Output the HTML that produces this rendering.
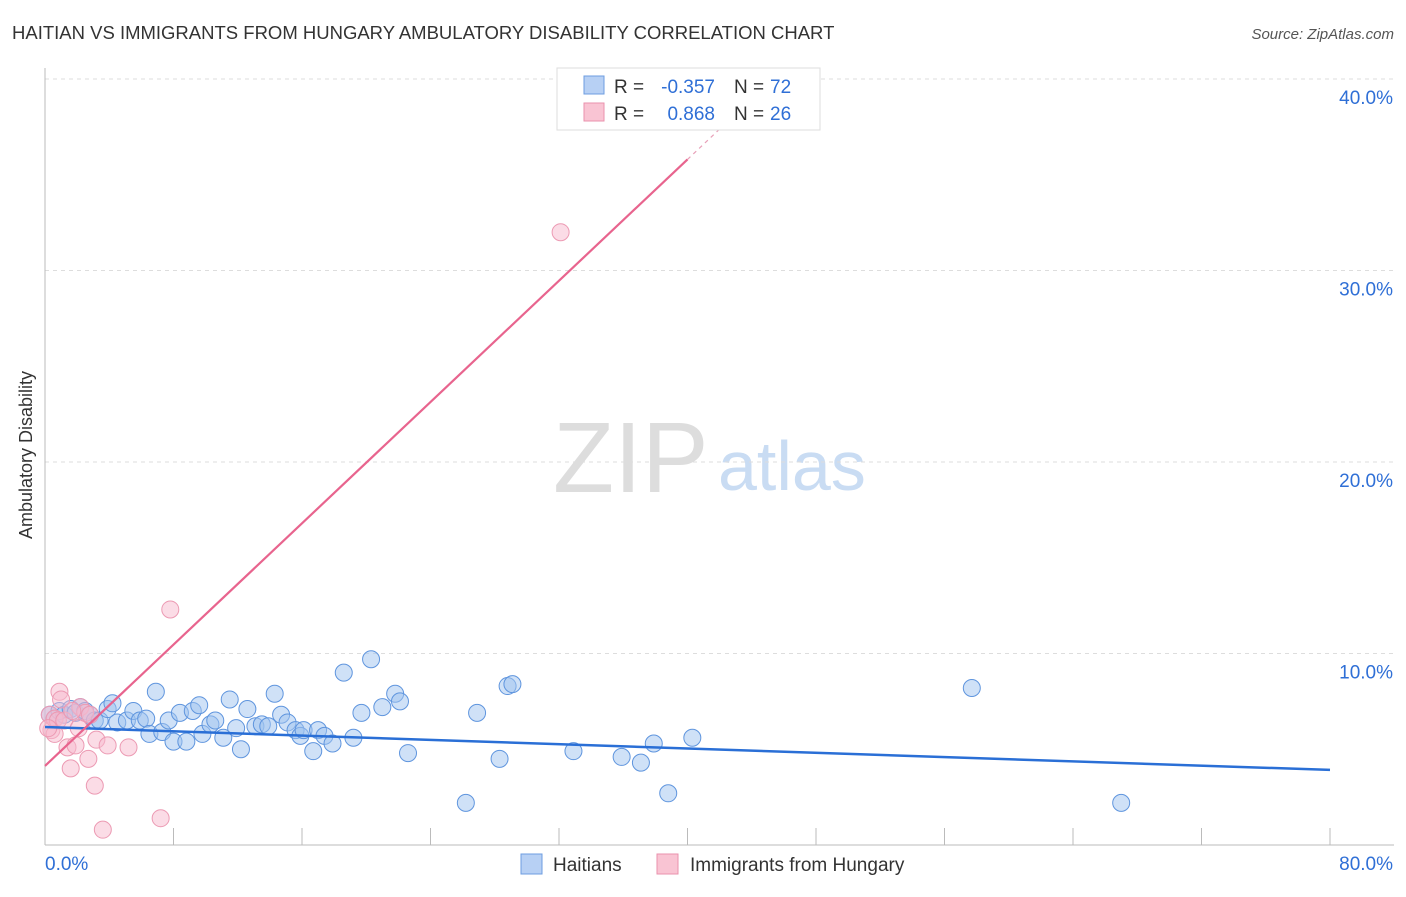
<!DOCTYPE html>
<html><head><meta charset="utf-8"><style>
body{margin:0;background:#fff;font-family:"Liberation Sans",sans-serif}
svg text{font-family:"Liberation Sans",sans-serif}
</style></head><body>
<svg width="1406" height="892">
<text x="12" y="39" font-size="18.5" fill="#333">HAITIAN VS IMMIGRANTS FROM HUNGARY AMBULATORY DISABILITY CORRELATION CHART</text>
<text x="1394" y="39" font-size="15" fill="#555" font-style="italic" text-anchor="end">Source: ZipAtlas.com</text>
<g><text x="553" y="492" font-size="100" fill="#ddd" font-family="Liberation Serif,serif">ZIP</text><text x="718" y="490" font-size="70" fill="#c9dcf3">atlas</text></g>
<g id="grid"></g><g id="axes"></g>
<text x="32" y="455" font-size="18" fill="#333" text-anchor="middle" transform="rotate(-90 32 455)">Ambulatory Disability</text>
<g id="pts"></g><g id="lines"></g>
<g>
<rect x="557" y="68" width="263" height="62" fill="#fff" stroke="#ddd"/>
<rect x="584" y="76" width="20" height="18" fill="#b7d0f4" stroke="#6d9de0"/>
<rect x="584" y="103" width="20" height="18" fill="#f9c4d3" stroke="#ea92ad"/>
<text x="614" y="93" font-size="19" fill="#333">R =</text>
<text x="715" y="93" font-size="19" fill="#2f6fd6" text-anchor="end">-0.357</text>
<text x="734" y="93" font-size="19" fill="#333">N =</text>
<text x="770" y="93" font-size="19" fill="#2f6fd6">72</text>
<text x="614" y="120" font-size="19" fill="#333">R =</text>
<text x="715" y="120" font-size="19" fill="#2f6fd6" text-anchor="end">0.868</text>
<text x="734" y="120" font-size="19" fill="#333">N =</text>
<text x="770" y="120" font-size="19" fill="#2f6fd6">26</text>
</g>
<g>
<rect x="521" y="854" width="21" height="20" fill="#b7d0f4" stroke="#6d9de0"/>
<text x="553" y="871" font-size="19" fill="#333">Haitians</text>
<rect x="657" y="854" width="21" height="20" fill="#f9c4d3" stroke="#ea92ad"/>
<text x="690" y="871" font-size="19" fill="#333">Immigrants from Hungary</text>
</g>
</svg>
<script>
const xTicks=[0,8,16,24,32,40,48,56,64,72,80];
const yTicks=[10,20,30,40];
const blueX=[0.3,0.6,0.9,1.2,1.6,1.9,2.2,2.5,2.8,3.1,3.4,3.9,4.2,4.5,5.1,5.5,5.9,6.3,6.5,6.9,7.3,7.7,8.0,8.4,8.8,9.2,9.6,9.8,10.3,10.6,11.1,11.5,11.9,12.2,12.6,13.1,13.5,13.9,14.3,14.7,15.1,15.6,15.9,16.1,16.7,17.0,17.4,17.9,18.6,19.2,19.7,20.3,21.0,21.8,22.1,22.6,26.2,26.9,28.3,28.8,29.1,32.9,35.9,37.1,37.9,38.8,40.3,57.7,67.0];
const blueY=[6.8,6.6,7.0,6.8,7.1,6.9,7.2,7.0,6.8,6.5,6.5,7.1,7.4,6.4,6.5,7.0,6.5,6.6,5.8,8.0,5.9,6.5,5.4,6.9,5.4,7.0,7.3,5.8,6.3,6.5,5.6,7.6,6.1,5.0,7.1,6.2,6.3,6.2,7.9,6.8,6.4,6.0,5.7,6.0,4.9,6.0,5.7,5.3,9.0,5.6,6.9,9.7,7.2,7.9,7.5,4.8,2.2,6.9,4.5,8.3,8.4,4.9,4.6,4.3,5.3,2.7,5.6,8.2,2.2];
const pinkX=[0.3,0.4,0.6,0.8,0.9,1.0,1.2,1.4,1.6,1.9,2.1,2.2,2.5,2.7,2.8,3.1,3.2,3.6,3.9,5.2,7.2,7.8,32.1,0.6,0.2,1.7];
const pinkY=[6.8,6.0,6.6,6.5,8.0,7.6,6.5,5.1,4.0,5.2,6.1,7.2,6.9,4.5,6.8,3.1,5.5,0.8,5.2,5.1,1.4,12.3,32.0,5.8,6.1,7.0];
const blueTrend=[6.16,3.92];
const pinkTrend=[4.13,35.8];
const X=v=>45+v*16.0625, Y=v=>845-v*19.15;
const NS="http://www.w3.org/2000/svg";
function mk(t,a,p){const e=document.createElementNS(NS,t);for(const k in a)e.setAttribute(k,a[k]);p.appendChild(e);return e;}
const grid=document.getElementById('grid'),axes=document.getElementById('axes'),pts=document.getElementById('pts'),lines=document.getElementById('lines');
yTicks.forEach(t=>{const l=mk('line',{x1:45,x2:1394,y1:Y(t),y2:Y(t),stroke:'#ddd','stroke-dasharray':'4 4'},grid);


const tx=mk('text',{x:1393,y:Y(t)+25,'font-size':19,fill:'#2f6fd6','text-anchor':'end'},axes);tx.textContent=t.toFixed(1)+'%';

});
mk('line',{x1:45,x2:45,y1:68,y2:845,stroke:'#bbb'},axes);
mk('line',{x1:45,x2:1394,y1:845,y2:845,stroke:'#bbb'},axes);
xTicks.forEach((t,i)=>{if(i>0){const l=mk('line',{x1:X(t),x2:X(t),y1:828,y2:845,stroke:'#bbb'},axes);

}});
[[0,45,'start'],[80,1393,'end']].forEach(a=>{const tx=mk('text',{x:a[1],y:870,'font-size':19,fill:'#2f6fd6','text-anchor':a[2]},axes);tx.textContent=a[0].toFixed(1)+'%';

});
blueX.forEach((x,i)=>{const c=mk('circle',{cx:X(x),cy:Y(blueY[i]),r:8.5,fill:'rgba(160,196,240,0.5)',stroke:'#5f95de','stroke-width':1},pts);

});
pinkX.forEach((x,i)=>{const c=mk('circle',{cx:X(x),cy:Y(pinkY[i]),r:8.5,fill:'rgba(248,185,205,0.5)',stroke:'#ec9ab3','stroke-width':1},pts);

});
let l=mk('line',{x1:X(0),y1:Y(blueTrend[0]),x2:X(80),y2:Y(blueTrend[1]),stroke:'#2a6fd6','stroke-width':2.5},lines);


l=mk('line',{x1:X(0),y1:Y(pinkTrend[0]),x2:X(40),y2:Y(pinkTrend[1]),stroke:'#e8648e','stroke-width':2.2},lines);


const s=(pinkTrend[1]-pinkTrend[0])/40;
l=mk('line',{x1:X(40),y1:Y(pinkTrend[1]),x2:X(42.3),y2:Y(pinkTrend[0]+s*42.3),stroke:'#e8a0b8','stroke-width':1.2,'stroke-dasharray':'4 4'},lines);


</script>
</body></html>
